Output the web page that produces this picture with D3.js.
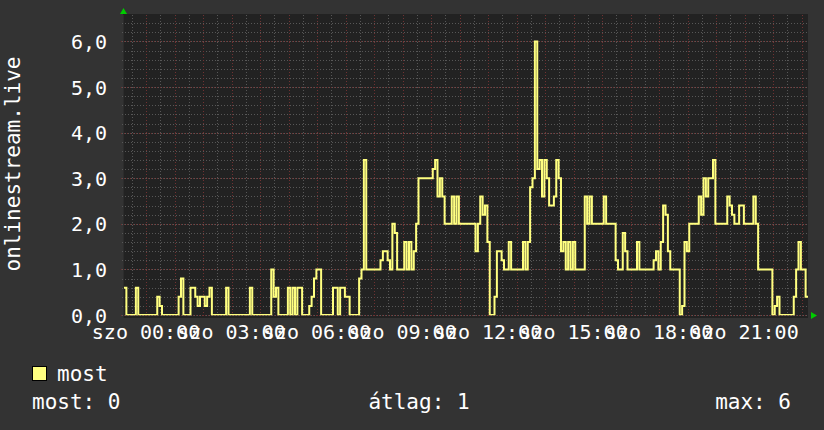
<!DOCTYPE html>
<html><head><meta charset="utf-8">
<script src="https://cdn.jsdelivr.net/npm/d3@7"></script>
<style>html,body{margin:0;padding:0;background:#333333;}svg{display:block;}</style>
</head><body>
<svg id="chart" width="824" height="430"></svg>
<script>
// ---------------- data ----------------
const yTitle = "onlinestream.live";
const seriesName = "most";
const seriesColor = "#ffff80";
const stepMinutes = 5;
// first sample: Friday 23:13:40, 5-minute steps through Saturday
const startParts = [2024, 0, 5, 23, 13, 40];
const values = [
  0.6,0,0,0,0,0.6,0,0,0,0, 0,0,0,0,0.4,0.2,0,0,0,0,
  0,0,0,0.4,0.8,0,0,0,0.6,0.6, 0.4,0.2,0.4,0.4,0.2,0.4,0.6,0,0,0,
  0,0,0,0.6,0,0,0,0,0,0, 0,0,0,0.6,0,0,0,0,0,0,
  0,0,1.0,0.4,0.6,0,0,0,0,0.6, 0,0.6,0,0.6,0.6,0,0,0,0.2,0.4,
  0.8,1.0,1.0,0,0,0,0,0,0.6,0.6, 0,0.6,0.6,0.4,0.4,0,0,0,0,0.8,
  1.0,3.4,1.0,1.0,1.0,1.0,1.0,1.0,1.2,1.4, 1.4,1.2,1.0,2.0,1.8,1.0,1.0,1.0,1.6,1.0,
  1.6,1.0,1.4,2.0,3.0,3.0,3.0,3.0,3.0,3.0, 3.2,3.4,2.6,3.0,2.6,2.0,2.0,2.0,2.6,2.0,
  2.6,2.0,2.0,2.0,2.0,2.0,2.0,2.0,1.4,2.0, 2.6,2.2,2.4,1.6,0,0,0.4,1.4,1.4,1.2,
  1.0,1.0,1.6,1.0,1.0,1.0,1.0,1.0,1.6,1.0, 1.6,2.8,3.0,6.0,3.2,3.4,2.6,3.4,3.0,2.4,
  2.4,2.6,3.4,3.0,1.4,1.6,1.0,1.6,1.0,1.6, 1.0,1.0,1.0,1.0,2.6,2.0,2.6,2.0,2.0,2.0,
  2.0,2.0,2.6,2.0,2.0,2.0,2.0,1.2,1.0,1.0, 1.8,1.4,1.0,1.0,1.0,1.0,1.6,1.0,1.0,1.0,
  1.0,1.0,1.0,1.2,1.4,1.0,1.6,2.4,2.2,1.4, 1.0,1.0,1.0,1.0,0,0.2,1.6,1.4,2.0,2.0,
  2.0,2.0,2.6,2.2,3.0,2.6,3.0,3.0,3.4,2.0, 2.0,2.0,2.0,2.0,2.6,2.4,2.2,2.0,2.0,2.4,
  2.4,2.0,2.0,2.0,2.0,2.6,2.0,1.0,1.0,1.0, 1.0,1.0,1.0,0,0.2,0.4,0,0,0,0,
  0,0,0.4,1.0,1.6,1.0,1.0,0.4
];
const yTickValues = [0, 1, 2, 3, 4, 5, 6];
const yTickLabels = ["0,0", "1,0", "2,0", "3,0", "4,0", "5,0", "6,0"];
const xTickLabels = ["szo 00:00", "szo 03:00", "szo 06:00", "szo 09:00",
                     "szo 12:00", "szo 15:00", "szo 18:00", "szo 21:00"];
const statLabels = ["most", "átlag", "max"];
const statValues = [0, 1, 6];

// ---------------- layout ----------------
const svg = d3.select("#chart");
const L = 124, R = 808, T = 15, B = 315;
const mono = "'DejaVu Sans Mono', 'Liberation Mono', monospace";

const start = new Date(...startParts);
const end = d3.timeHour.offset(start, 24);
const x = d3.scaleTime().domain([start, end]).range([L, R]);
const y = d3.scaleLinear().domain([0, 6.58]).range([B, T]);

svg.append("rect").attr("x", 0).attr("y", 0).attr("width", 824).attr("height", 430).attr("fill", "#333333");
svg.append("rect").attr("x", L - 1).attr("y", T - 1).attr("width", R - L + 1).attr("height", B - T + 4).attr("fill", "#222222");

const grid = svg.append("g");
// minor grid
const minorY = d3.range(0, 6.59, 0.2);
grid.selectAll(".hy").data(minorY).join("line")
  .attr("x1", L - 2).attr("x2", R).attr("y1", d => Math.round(y(d)) + 0.5).attr("y2", d => Math.round(y(d)) + 0.5)
  .attr("stroke", "#575757").attr("stroke-dasharray", "1,2");
const minorX = d3.timeMinute.every(30).range(start, end);
grid.selectAll(".vx").data(minorX).join("line")
  .attr("x1", d => Math.round(x(d)) + 0.5).attr("x2", d => Math.round(x(d)) + 0.5)
  .attr("y1", T).attr("y2", B + 2)
  .attr("stroke", "#575757").attr("stroke-dasharray", "1,2");
// major grid
grid.selectAll(".my").data(yTickValues).join("line")
  .attr("x1", L - 3).attr("x2", R).attr("y1", d => Math.round(y(d)) + 0.5).attr("y2", d => Math.round(y(d)) + 0.5)
  .attr("stroke", "#703232").attr("stroke-dasharray", "1,2");
const majorX = d3.timeHour.every(1).range(start, end);
grid.selectAll(".mx").data(majorX).join("line")
  .attr("x1", d => Math.round(x(d)) + 0.5).attr("x2", d => Math.round(x(d)) + 0.5)
  .attr("y1", T).attr("y2", B + 3)
  .attr("stroke", "#703232").attr("stroke-dasharray", "1,2");

// axes lines
svg.append("line").attr("x1", L - 0.5).attr("x2", L - 0.5).attr("y1", T).attr("y2", B + 3).attr("stroke", "#2c2c2c");

// y tick labels
svg.append("g").selectAll("text").data(yTickValues).join("text")
  .attr("x", 107).attr("y", d => y(d) + 7.5)
  .attr("text-anchor", "end").attr("fill", "#ffffff")
  .attr("font-family", mono).attr("font-size", "20px")
  .text((d, i) => yTickLabels[i]);

// x tick labels (every 3 hours) -- they overlap in the original too
const labelTimes = d3.timeHour.every(3).range(start, end);
svg.append("g").selectAll("text").data(labelTimes).join("text")
  .attr("x", d => x(d)).attr("y", 338.5)
  .attr("text-anchor", "middle").attr("fill", "#ffffff")
  .attr("font-family", mono).attr("font-size", "20px")
  .text((d, i) => xTickLabels[i]);

// y title
svg.append("text")
  .attr("transform", "translate(20,164) rotate(-90)")
  .attr("text-anchor", "middle").attr("fill", "#ffffff")
  .attr("font-family", mono).attr("font-size", "21px")
  .text(yTitle);

// data line
const pts = values.map((v, i) => ({t: d3.timeMinute.offset(start, i * stepMinutes), v}));
pts.push({t: d3.timeMinute.offset(start, values.length * stepMinutes), v: values[values.length - 1]});
svg.append("clipPath").attr("id", "clip").append("rect")
  .attr("x", L).attr("y", T - 2).attr("width", R - L).attr("height", B - T + 2.2);
svg.append("path").datum(pts)
  .attr("clip-path", "url(#clip)")
  .attr("fill", "none").attr("stroke", seriesColor).attr("stroke-width", 2)
  .attr("stroke-linejoin", "miter")
  .attr("d", d3.line().x(d => x(d.t)).y(d => y(d.v)).curve(d3.curveStepAfter));

// arrows
svg.append("path").attr("d", `M${L - 4},${T - 1} L${L + 3},${T - 1} L${L - 0.5},${T - 7} Z`).attr("fill", "#00cc00");
svg.append("path").attr("d", `M${R + 3},${B - 3} L${R + 3},${B + 4} L${R + 9},${B + 0.5} Z`).attr("fill", "#00cc00");

// legend
svg.append("rect").attr("x", 32.5).attr("y", 366.5).attr("width", 14).attr("height", 14)
  .attr("fill", seriesColor).attr("stroke", "#000000").attr("stroke-width", 1);
svg.append("text").attr("x", 57).attr("y", 381).attr("fill", "#ffffff")
  .attr("font-family", mono).attr("font-size", "21px").text(seriesName);

const statX = [32, 419, 791];
const statAnchor = ["start", "middle", "end"];
svg.append("g").selectAll("text").data(statLabels).join("text")
  .attr("x", (d, i) => statX[i]).attr("y", 409)
  .attr("text-anchor", (d, i) => statAnchor[i]).attr("fill", "#ffffff")
  .attr("font-family", mono).attr("font-size", "21px")
  .text((d, i) => `${d}: ${statValues[i]}`);
</script>
</body></html>
